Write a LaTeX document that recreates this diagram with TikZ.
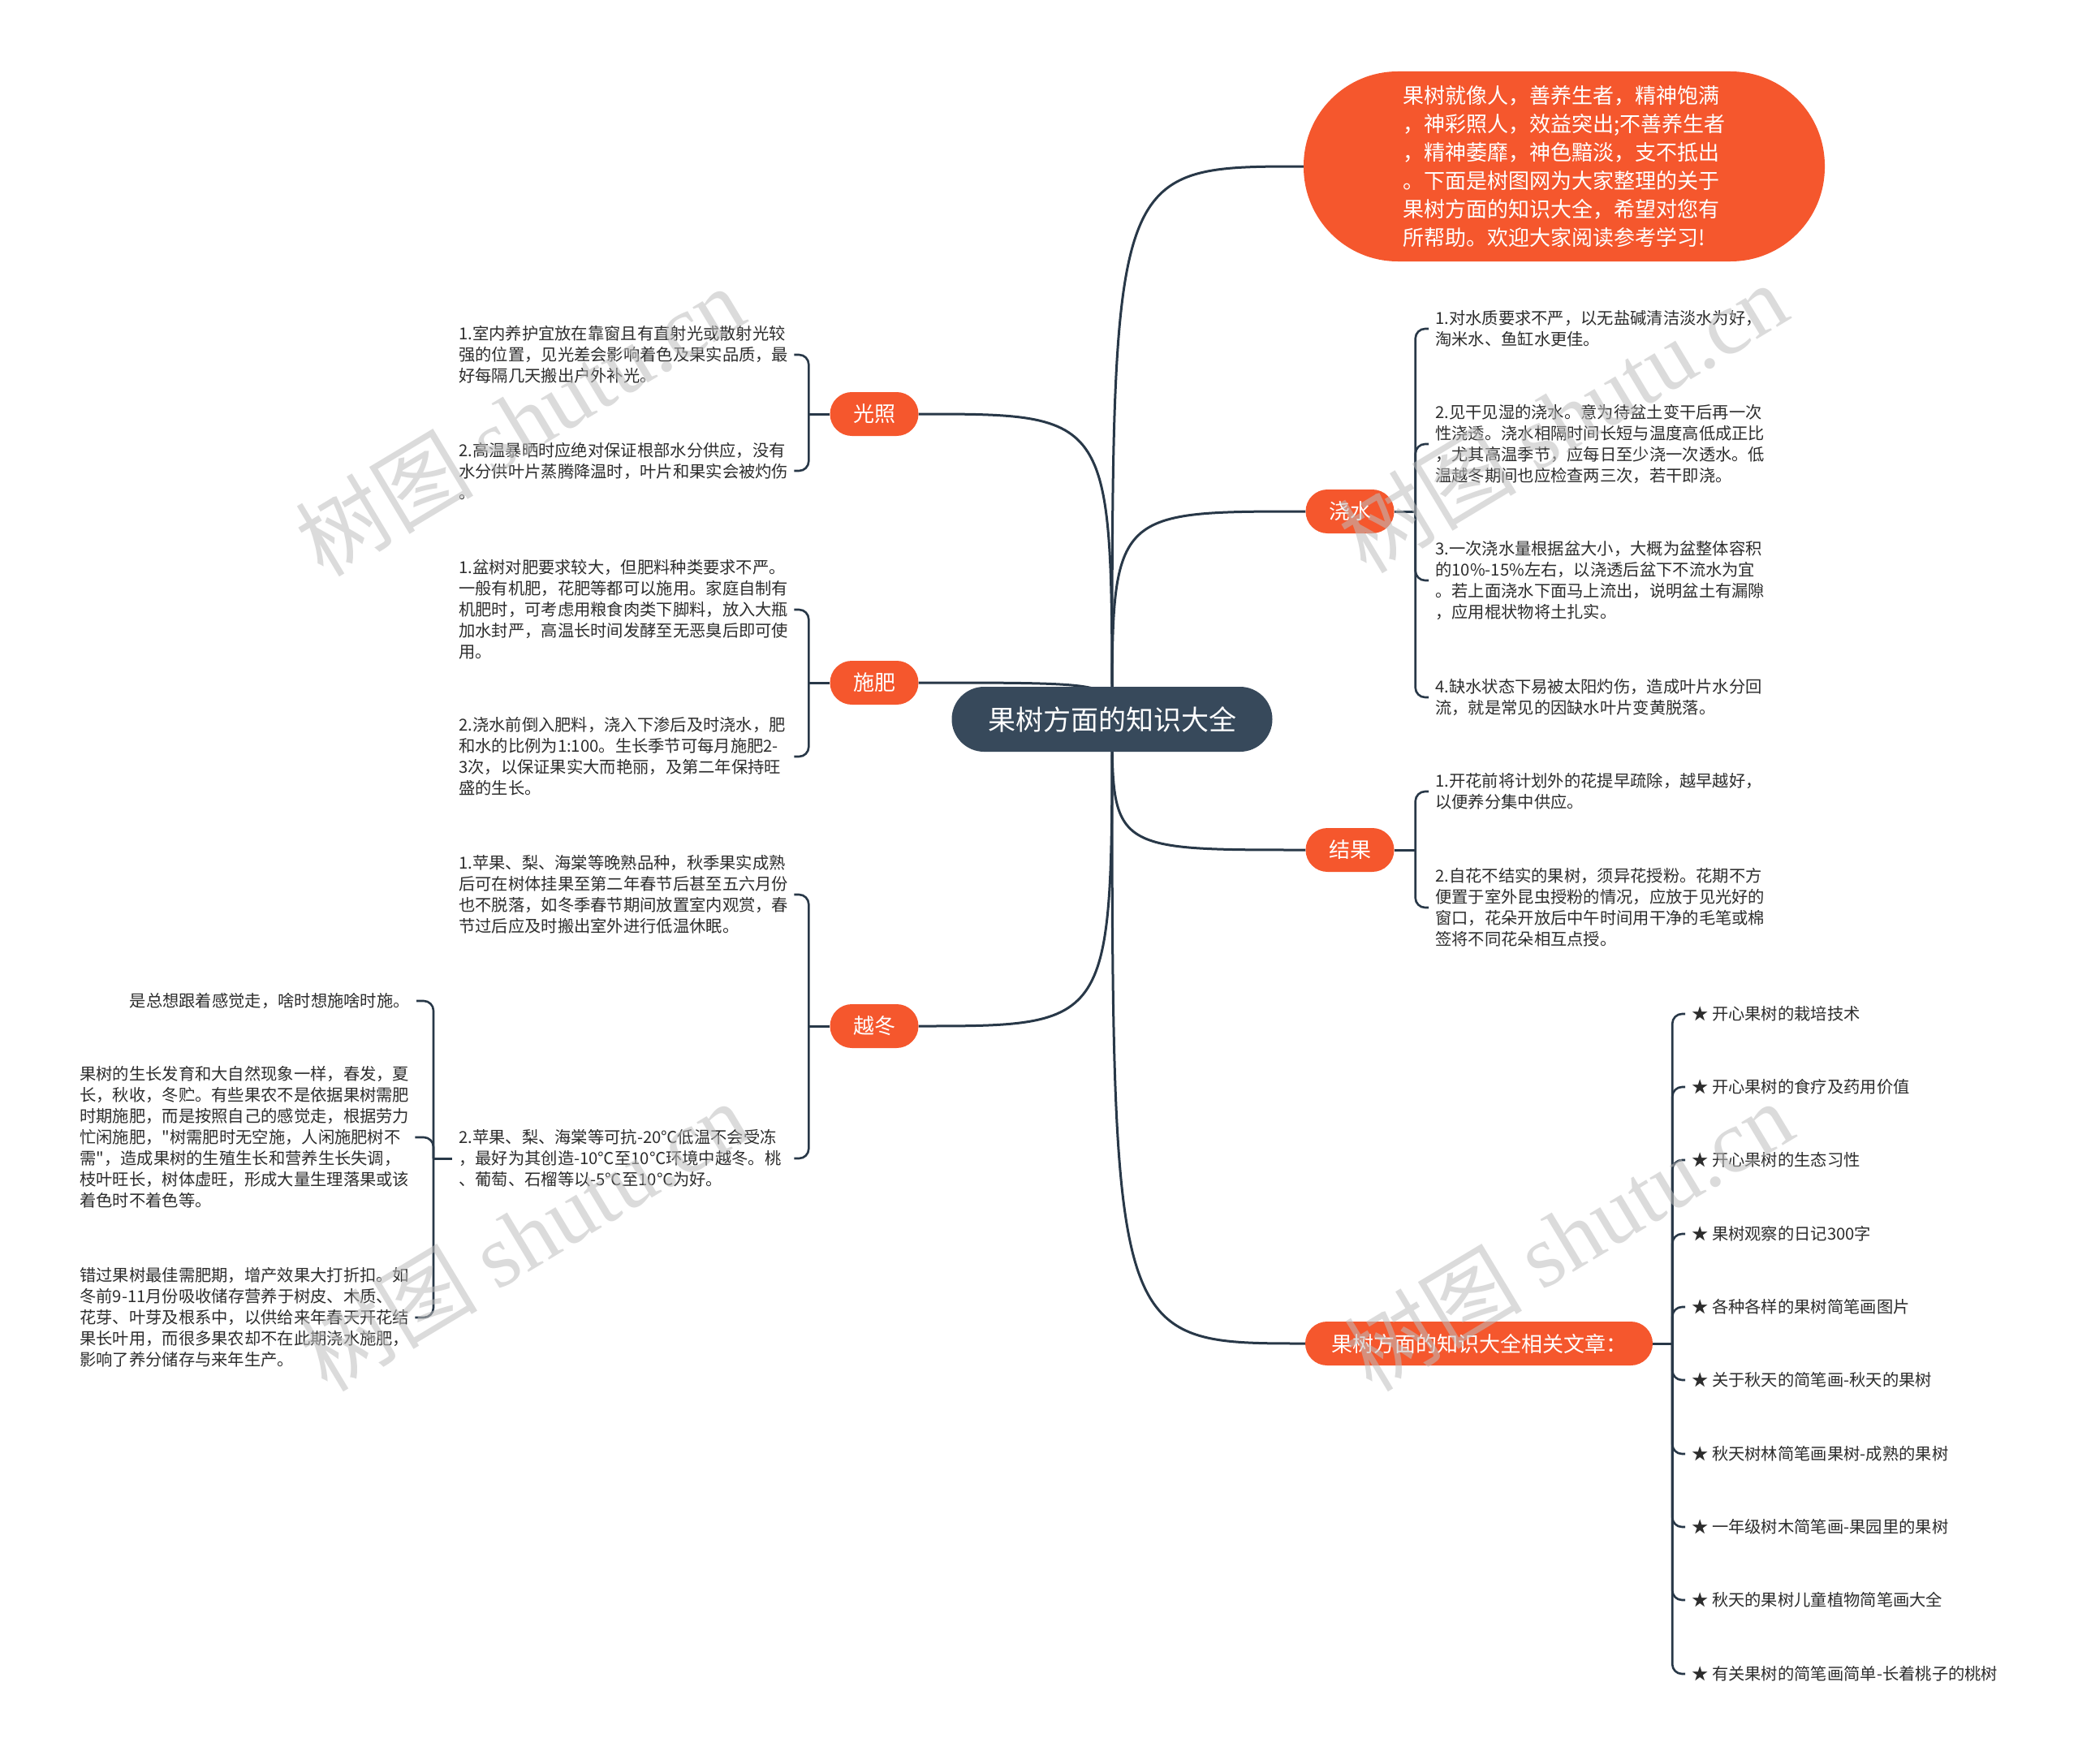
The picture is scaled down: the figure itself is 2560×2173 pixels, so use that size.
\documentclass[tikz,border=0pt]{standalone}
\usepackage{fontspec}
\setmainfont{Noto Sans CJK SC}[Ligatures=TeXOff]
\newfontfamily\wmserif{Liberation Serif}
\usetikzlibrary{backgrounds}
\definecolor{orangepill}{RGB}{245,87,45}
\definecolor{centerc}{RGB}{55,73,91}
\definecolor{linec}{RGB}{40,56,72}
\definecolor{txt}{RGB}{45,45,45}
\definecolor{wm}{RGB}{190,190,190}
\tikzset{
  pill/.style={fill=orangepill, text=white, rounded corners=26.9pt, minimum height=54pt, minimum width=109pt, inner sep=0pt, font=\fontsize{26}{30}\selectfont},
  detail/.style={text=txt, align=left, text width=405pt, inner xsep=8pt, inner ysep=0pt, font=\fontsize{20.3}{26}\selectfont},
  ditem/.style={text=txt, inner xsep=8pt, inner ysep=0pt, font=\fontsize{20.3}{26}\selectfont},
  conn/.style={draw=linec, line width=3pt},
  brk/.style={draw=linec, line width=2.6pt, rounded corners=12pt},
  wmark/.style={text=wm, text opacity=0.55, rotate=31, inner sep=0pt, font=\fontsize{110}{110}\selectfont}
}
\begin{document}
\begin{tikzpicture}[x=1pt, y=-1pt]
\useasboundingbox (0,0) rectangle (2560,2173);

% central and main branch nodes
\node[fill=centerc, text=white, rounded corners=39.9pt, minimum width=395pt, minimum height=80pt, inner sep=0pt, font=\fontsize{34}{40}\selectfont] (ctr) at (1370,886) {果树方面的知识大全};

\node[fill=orangepill, text=white, rounded corners=116pt, minimum width=642pt, minimum height=234pt, inner sep=0pt, align=left, font=\fontsize{26}{35}\selectfont] (intro) at (1927,205) {果树就像人，善养生者，精神饱满\\，神彩照人，效益突出;不善养生者\\，精神萎靡，神色黯淡，支不抵出\\。下面是树图网为大家整理的关于\\果树方面的知识大全，希望对您有\\所帮助。欢迎大家阅读参考学习!};

\node[pill] (gz) at (1077,510) {光照};
\node[pill] (sf) at (1077,841) {施肥};
\node[pill] (yd) at (1077,1264) {越冬};
\node[pill] (js) at (1663,630) {浇水};
\node[pill] (jg) at (1663,1047) {结果};
\node[pill, minimum width=428pt] (xg) at (1822,1655) {果树方面的知识大全相关文章：};

% 光照 details
\node[detail, anchor=west] (gz1) at (557,437) {1.室内养护宜放在靠窗且有直射光或散射光较\\强的位置，见光差会影响着色及果实品质，最\\好每隔几天搬出户外补光。};
\node[detail, anchor=west] (gz2) at (557,580) {2.高温暴晒时应绝对保证根部水分供应，没有\\水分供叶片蒸腾降温时，叶片和果实会被灼伤\\。};

% 施肥 details
\node[detail, anchor=west] (sf1) at (557,751) {1.盆树对肥要求较大，但肥料种类要求不严。\\一般有机肥，花肥等都可以施用。家庭自制有\\机肥时，可考虑用粮食肉类下脚料，放入大瓶\\加水封严，高温长时间发酵至无恶臭后即可使\\用。};
\node[detail, anchor=west] (sf2) at (557,932) {2.浇水前倒入肥料，浇入下渗后及时浇水，肥\\和水的比例为1:100。生长季节可每月施肥2-\\3次，以保证果实大而艳丽，及第二年保持旺\\盛的生长。};

% 越冬 details
\node[detail, anchor=west] (yd1) at (557,1102) {1.苹果、梨、海棠等晚熟品种，秋季果实成熟\\后可在树体挂果至第二年春节后甚至五六月份\\也不脱落，如冬季春节期间放置室内观赏，春\\节过后应及时搬出室外进行低温休眠。};
\node[detail, anchor=west] (yd2) at (557,1427) {2.苹果、梨、海棠等可抗-20℃低温不会受冻\\，最好为其创造-10℃至10℃环境中越冬。桃\\、葡萄、石榴等以-5℃至10℃为好。};

\node[ditem, anchor=east] (yg1) at (513,1233) {是总想跟着感觉走，啥时想施啥时施。};
\node[detail, anchor=west] (yg2) at (90,1401) {果树的生长发育和大自然现象一样，春发，夏\\长，秋收，冬贮。有些果农不是依据果树需肥\\时期施肥，而是按照自己的感觉走，根据劳力\\忙闲施肥，"树需肥时无空施，人闲施肥树不\\需"，造成果树的生殖生长和营养生长失调，\\枝叶旺长，树体虚旺，形成大量生理落果或该\\着色时不着色等。};
\node[detail, anchor=west] (yg3) at (90,1623) {错过果树最佳需肥期，增产效果大打折扣。如\\冬前9-11月份吸收储存营养于树皮、木质、\\花芽、叶芽及根系中，以供给来年春天开花结\\果长叶用，而很多果农却不在此期浇水施肥，\\影响了养分储存与来年生产。};

% 浇水 details
\node[detail, anchor=west] (js1) at (1760,405) {1.对水质要求不严，以无盐碱清洁淡水为好，\\淘米水、鱼缸水更佳。};
\node[detail, anchor=west] (js2) at (1760,547) {2.见干见湿的浇水。意为待盆土变干后再一次\\性浇透。浇水相隔时间长短与温度高低成正比\\，尤其高温季节，应每日至少浇一次透水。低\\温越冬期间也应检查两三次，若干即浇。};
\node[detail, anchor=west] (js3) at (1760,715) {3.一次浇水量根据盆大小，大概为盆整体容积\\的10\%-15\%左右，以浇透后盆下不流水为宜\\。若上面浇水下面马上流出，说明盆土有漏隙\\，应用棍状物将土扎实。};
\node[detail, anchor=west] (js4) at (1760,859) {4.缺水状态下易被太阳灼伤，造成叶片水分回\\流，就是常见的因缺水叶片变黄脱落。};

% 结果 details
\node[detail, anchor=west] (jg1) at (1760,975) {1.开花前将计划外的花提早疏除，越早越好，\\以便养分集中供应。};
\node[detail, anchor=west] (jg2) at (1760,1118) {2.自花不结实的果树，须异花授粉。花期不方\\便置于室外昆虫授粉的情况，应放于见光好的\\窗口，花朵开放后中午时间用干净的毛笔或棉\\签将不同花朵相互点授。};

% related articles
\node[ditem, anchor=west] (r1) at (2076,1249) {★ 开心果树的栽培技术};
\node[ditem, anchor=west] (r2) at (2076,1339) {★ 开心果树的食疗及药用价值};
\node[ditem, anchor=west] (r3) at (2076,1429) {★ 开心果树的生态习性};
\node[ditem, anchor=west] (r4) at (2076,1520) {★ 果树观察的日记300字};
\node[ditem, anchor=west] (r5) at (2076,1610) {★ 各种各样的果树简笔画图片};
\node[ditem, anchor=west] (r6) at (2076,1700) {★ 关于秋天的简笔画-秋天的果树};
\node[ditem, anchor=west] (r7) at (2076,1791) {★ 秋天树林简笔画果树-成熟的果树};
\node[ditem, anchor=west] (r8) at (2076,1881) {★ 一年级树木简笔画-果园里的果树};
\node[ditem, anchor=west] (r9) at (2076,1971) {★ 秋天的果树儿童植物简笔画大全};
\node[ditem, anchor=west] (r10) at (2076,2062) {★ 有关果树的简笔画简单-长着桃子的桃树};

% junction coordinates
\coordinate (jgz) at ([xshift=-26pt]gz.west);
\coordinate (jsf) at ([xshift=-26pt]sf.west);
\coordinate (jyd) at ([xshift=-26pt]yd.west);
\coordinate (jyd2) at ([xshift=-23pt]yd2.west);
\coordinate (jjs) at ([xshift=26pt]js.east);
\coordinate (jjg) at ([xshift=26pt]jg.east);
\coordinate (jxg) at ([xshift=24pt]xg.east);

\begin{scope}[on background layer]
\fill[white] (0,0) rectangle (2560,2173);
% main curves
\draw[conn] (ctr.center) .. controls (ctr.center |- intro.west) .. (intro.west);
\draw[conn] (ctr.center) .. controls (ctr.center |- gz.east) .. (gz.east);
\draw[conn] (ctr.center) .. controls (ctr.center |- sf.east) .. (sf.east);
\draw[conn] (ctr.center) .. controls (ctr.center |- yd.east) .. (yd.east);
\draw[conn] (ctr.center) .. controls (ctr.center |- js.west) .. (js.west);
\draw[conn] (ctr.center) .. controls (ctr.center |- jg.west) .. (jg.west);
\draw[conn] (ctr.center) .. controls (ctr.center |- xg.west) .. (xg.west);
% branch stubs
\draw[conn] (gz.west) -- (jgz);
\draw[conn] (sf.west) -- (jsf);
\draw[conn] (yd.west) -- (jyd);
\draw[conn] (yd2.west) -- (jyd2);
\draw[conn] (js.east) -- (jjs);
\draw[conn] (jg.east) -- (jjg);
\draw[conn] (xg.east) -- (jxg);
% brackets
\draw[brk] (jgz) |- (gz1.east);
\draw[brk] (jgz) |- (gz2.east);
\draw[brk] (jsf) |- (sf1.east);
\draw[brk] (jsf) |- (sf2.east);
\draw[brk] (jyd) |- (yd1.east);
\draw[brk] (jyd) |- (yd2.east);
\draw[brk] (jyd2) |- (yg1.east);
\draw[brk] (jyd2) |- (yg2.east);
\draw[brk] (jyd2) |- (yg3.east);
\draw[brk] (jjs) |- (js1.west);
\draw[brk] (jjs) |- (js2.west);
\draw[brk] (jjs) |- (js3.west);
\draw[brk] (jjs) |- (js4.west);
\draw[brk] (jjg) |- (jg1.west);
\draw[brk] (jjg) |- (jg2.west);
\foreach \i in {1,...,10} {\draw[brk] (jxg) |- (r\i.west);}
\end{scope}

% watermarks
\node[wmark] (wm1) at (640,518) {树图 {\wmserif shutu.cn}};
\node[wmark] (wm2) at (1925,514) {树图 {\wmserif shutu.cn}};
\node[wmark] (wm3) at (645,1522) {树图 {\wmserif shutu.cn}};
\node[wmark] (wm4) at (1932,1522) {树图 {\wmserif shutu.cn}};
\end{tikzpicture}
\end{document}
